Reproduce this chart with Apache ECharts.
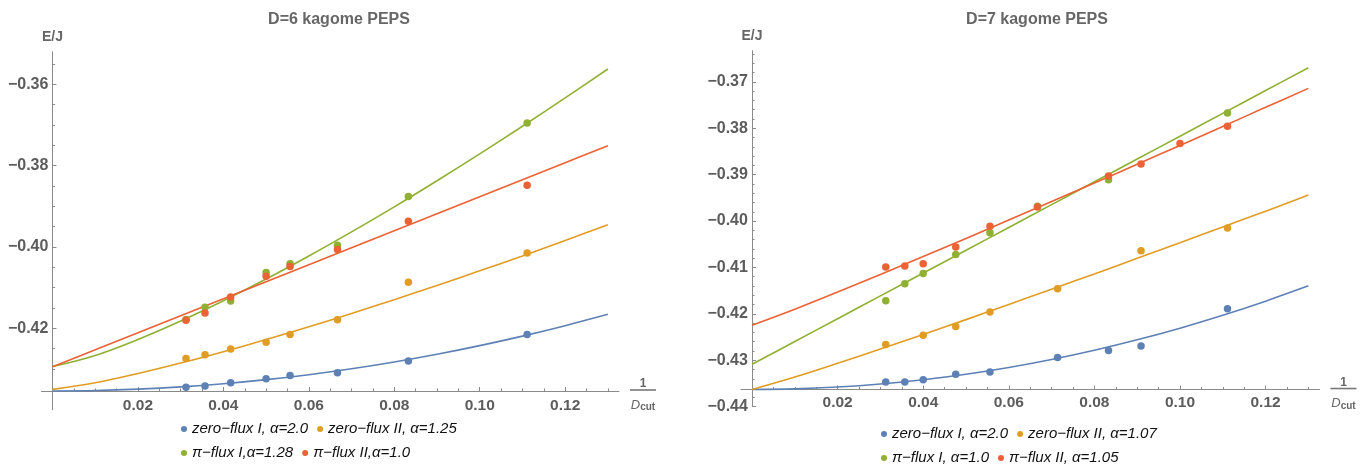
<!DOCTYPE html>
<html><head><meta charset="utf-8">
<script src="https://cdn.jsdelivr.net/npm/echarts@6/dist/echarts.min.js"></script>
<style>html,body{margin:0;padding:0;background:#fff}#c{width:1366px;height:465px}</style>
</head><body><div id="c"></div>
<script>
// ---------- data ----------
const titles = ['D=6 kagome PEPS', 'D=7 kagome PEPS'];
const d6Names = ['zero\u2212flux I, \u03b1=2.0', 'zero\u2212flux II, \u03b1=1.25', '\u03c0\u2212flux I,\u03b1=1.28', '\u03c0\u2212flux II,\u03b1=1.0'];
const d7Names = ['zero\u2212flux I, \u03b1=2.0', 'zero\u2212flux II, \u03b1=1.07', '\u03c0\u2212flux I, \u03b1=1.0', '\u03c0\u2212flux II, \u03b1=1.05'];

// 1/D_cut values of the measured points
const d6X = [0.03125, 0.0357, 0.0417, 0.05, 0.0556, 0.0667, 0.0833, 0.1111];
const d6Blue   = [-0.4345, -0.4342, -0.4334, -0.4324, -0.4316, -0.4309, -0.4280, -0.4215];
const d6Orange = [-0.4274, -0.4265, -0.4251, -0.4234, -0.4215, -0.4179, -0.4087, -0.4015];
const d6Green  = [-0.4178, -0.4148, -0.4133, -0.4063, -0.4041, -0.3996, -0.3876, -0.3695];
const d6Red    = [-0.4180, -0.4162, -0.4123, -0.4072, -0.4048, -0.4006, -0.3937, -0.3848];

const d7BlueX   = [0.03125, 0.0357, 0.04, 0.0476, 0.0556, 0.0714, 0.0833, 0.0909, 0.1111];
const d7Blue    = [-0.4347, -0.4347, -0.4342, -0.4330, -0.4325, -0.4294, -0.4279, -0.4269, -0.4189];
const d7OrangeX = [0.03125, 0.04, 0.0476, 0.0556, 0.0714, 0.0909, 0.1111];
const d7Orange  = [-0.4266, -0.4246, -0.4227, -0.4196, -0.4146, -0.4064, -0.4015];
const d7GreenX  = [0.03125, 0.0357, 0.04, 0.0476, 0.0556, 0.0667, 0.0833, 0.1111];
const d7Green   = [-0.4172, -0.4135, -0.4113, -0.4072, -0.4025, -0.3968, -0.3911, -0.3767];
const d7RedX    = [0.03125, 0.0357, 0.04, 0.0476, 0.0556, 0.0667, 0.0833, 0.0909, 0.1, 0.1111];
const d7Red     = [-0.4099, -0.4097, -0.4092, -0.4056, -0.4011, -0.3970, -0.3903, -0.3877, -0.3833, -0.3796];

// fitted curves at these abscissae
const fitX = [0, 0.01, 0.02, 0.03, 0.04, 0.05, 0.06, 0.07, 0.08, 0.09, 0.10, 0.11, 0.12, 0.13];
const d6FitBlue   = [-0.4354, -0.43529, -0.43495, -0.4344, -0.43362, -0.43261, -0.43139, -0.42994, -0.42826, -0.42637, -0.42425, -0.42191, -0.41934, -0.41656];
const d6FitOrange = [-0.4350, -0.43336, -0.4311, -0.42853, -0.42573, -0.42275, -0.41962, -0.41634, -0.41295, -0.40946, -0.40587, -0.40219, -0.3984, -0.39455];
const d6FitGreen  = [-0.4294, -0.42666, -0.42274, -0.41821, -0.41322, -0.40788, -0.40221, -0.39628, -0.39013, -0.38371, -0.37712, -0.37032, -0.36337, -0.35625];
const d6FitRed    = [-0.42944, -0.42526, -0.42108, -0.4169, -0.41272, -0.40854, -0.40436, -0.40018, -0.396, -0.39182, -0.38764, -0.38346, -0.37928, -0.3751];
const d7FitBlue   = [-0.4363, -0.43617, -0.43577, -0.43511, -0.43418, -0.433, -0.43154, -0.42982, -0.42784, -0.42559, -0.42308, -0.4203, -0.41726, -0.41396];
const d7FitOrange = [-0.4363, -0.43361, -0.43065, -0.42758, -0.42443, -0.42124, -0.41797, -0.41469, -0.4114, -0.40803, -0.40467, -0.40127, -0.39787, -0.39441];
const d7FitGreen  = [-0.43087, -0.42596, -0.42104, -0.41613, -0.41121, -0.4063, -0.40138, -0.39647, -0.39155, -0.38664, -0.38172, -0.37681, -0.37189, -0.36698];
const d7FitRed    = [-0.42246, -0.41901, -0.41531, -0.41152, -0.40766, -0.40375, -0.39979, -0.3958, -0.39181, -0.38776, -0.38371, -0.37961, -0.3755, -0.37142];

// tick labels
const xTicks   = [0.02, 0.04, 0.06, 0.08, 0.10, 0.12];
const d6YTicks = [-0.42, -0.40, -0.38, -0.36];
const d7YTicks = [-0.44, -0.43, -0.42, -0.41, -0.40, -0.39, -0.38, -0.37];

// ---------- style / layout ----------
const colors = ['#5E81B5', '#E19C24', '#8FB032', '#EB6235'];
const FONT = '"Liberation Sans", Arial, sans-serif';
const AX = '#8a8a8a', LBL = '#5c5c5c';
const panels = [
  {grid: {left: 41.4, top: 51.7, width: 577.6, height: 358}, ymin: -0.44, ymax: -0.352, cross: -0.4354, yInt: 0.02, ySplit: 4,
   yTicks: d6YTicks, xLblMargin: 7, title: {x: 334}, legendLeft: 181, legendTop: [420, 444]},
  {grid: {left: 740.9, top: 50.7, width: 578.6, height: 356}, ymin: -0.44, ymax: -0.3633, cross: -0.4363, yInt: 0.01, ySplit: 5,
   yTicks: d7YTicks, xLblMargin: 5, title: {x: 1032}, legendLeft: 881, legendTop: [425, 449]}
];
const XMIN = -0.0026, XMAX = 0.1326;

function fmt(v, step) {
  const r = Math.round(v / step) * step;
  if (Math.abs(v - r) > 1e-7 || Math.abs(r) < 1e-9) return '';
  return (r < 0 ? '\u2212' : '') + Math.abs(r).toFixed(2);
}
const zip = (xs, ys) => xs.map((x, i) => [x, ys[i]]);

const option = {animation: false, backgroundColor: '#fff', title: [], grid: [], xAxis: [], yAxis: [], legend: [], series: []};

panels.forEach((p, k) => {
  option.grid.push(Object.assign({containLabel: false, outerBoundsMode: 'none'}, p.grid));
  option.title.push({text: titles[k], left: p.title.x, top: 7, textAlign: 'center',
    textStyle: {fontFamily: FONT, fontWeight: 'bold', fontSize: 16, color: '#666'}});
  const off = -(p.cross - p.ymin) / (p.ymax - p.ymin) * p.grid.height;
  option.xAxis.push({
    type: 'value', gridIndex: k, min: XMIN, max: XMAX, minInterval: 0.02, maxInterval: 0.02,
    offset: off, position: 'bottom',
    axisLine: {onZero: false, lineStyle: {color: AX, width: 1}},
    axisTick: {inside: true, length: 4, customValues: xTicks, lineStyle: {color: AX}},
    minorTick: {show: true, splitNumber: 4, length: 2.5, lineStyle: {color: AX}},
    axisLabel: {customValues: xTicks, margin: p.xLblMargin, formatter: v => fmt(v, 0.02),
      fontFamily: FONT, fontWeight: 'bold', fontSize: 15.5, color: LBL},
    splitLine: {show: false},
    name: '{n|1}\n{b| }\n{d|D}{s|cut}', nameLocation: 'end', nameGap: 24,
    nameTextStyle: {align: 'center', verticalAlign: 'middle', padding: [16, 0, 0, 0],
      rich: {
        n: {fontFamily: FONT, fontWeight: 'bold', fontSize: 12, color: '#666', lineHeight: 10, align: 'center'},
        b: {width: 26, height: 1.6, backgroundColor: '#777', lineHeight: 2, fontSize: 1, align: 'center'},
        d: {fontFamily: FONT, fontStyle: 'italic', fontSize: 13, color: '#666', lineHeight: 28, verticalAlign: 'middle'},
        s: {fontFamily: FONT, fontWeight: 'bold', fontSize: 10, color: '#666', lineHeight: 28, verticalAlign: 'middle', padding: [5, 0, 0, 0]}
      }}
  });
  option.yAxis.push({
    type: 'value', gridIndex: k, min: p.ymin, max: p.ymax, interval: p.yInt,
    axisLine: {onZero: true, lineStyle: {color: AX, width: 1}},
    axisTick: {inside: true, length: 4, customValues: p.yTicks, lineStyle: {color: AX}},
    minorTick: {show: true, splitNumber: p.ySplit, length: 2.5, lineStyle: {color: AX}},
    axisLabel: {customValues: p.yTicks, margin: -7, formatter: v => fmt(v, 0.01),
      fontFamily: FONT, fontWeight: 'bold', fontSize: 16, color: LBL},
    splitLine: {show: false},
    name: 'E/J', nameLocation: 'end', nameGap: 8,
    nameTextStyle: {fontFamily: FONT, fontWeight: 'bold', fontSize: 14, color: '#666', align: 'center'}
  });
  const names = k === 0 ? d6Names : d7Names;
  [0, 1].forEach(r => option.legend.push({
    left: p.legendLeft, top: p.legendTop[r], orient: 'horizontal', padding: 0, itemGap: 9,
    itemWidth: 6, itemHeight: 6, icon: 'circle', selectedMode: false,
    data: [names[2 * r], names[2 * r + 1]],
    textStyle: {fontFamily: FONT, fontStyle: 'italic', fontSize: 15, color: '#111', lineHeight: 18}
  }));
});

const fits = [[d6FitBlue, d6FitOrange, d6FitGreen, d6FitRed], [d7FitBlue, d7FitOrange, d7FitGreen, d7FitRed]];
const pts = [
  [[d6X, d6Blue], [d6X, d6Orange], [d6X, d6Green], [d6X, d6Red]],
  [[d7BlueX, d7Blue], [d7OrangeX, d7Orange], [d7GreenX, d7Green], [d7RedX, d7Red]]
];
[0, 1].forEach(k => {
  fits[k].forEach((ys, i) => option.series.push({
    type: 'line', name: 'fit' + k + i, xAxisIndex: k, yAxisIndex: k, data: zip(fitX, ys),
    smooth: 0.35, showSymbol: false, silent: true, z: 2,
    lineStyle: {color: colors[i], width: 1.6}, itemStyle: {color: colors[i]}
  }));
});
[0, 1].forEach(k => {
  const names = k === 0 ? d6Names : d7Names;
  pts[k].forEach((xy, i) => option.series.push({
    type: 'scatter', name: names[i], xAxisIndex: k, yAxisIndex: k, data: zip(xy[0], xy[1]),
    symbol: 'circle', symbolSize: 7.5, z: 3, itemStyle: {color: colors[i], opacity: 1}
  }));
});

const chart = echarts.init(document.getElementById('c'), null, {renderer: 'canvas'});
chart.setOption(option);
</script></body></html>
